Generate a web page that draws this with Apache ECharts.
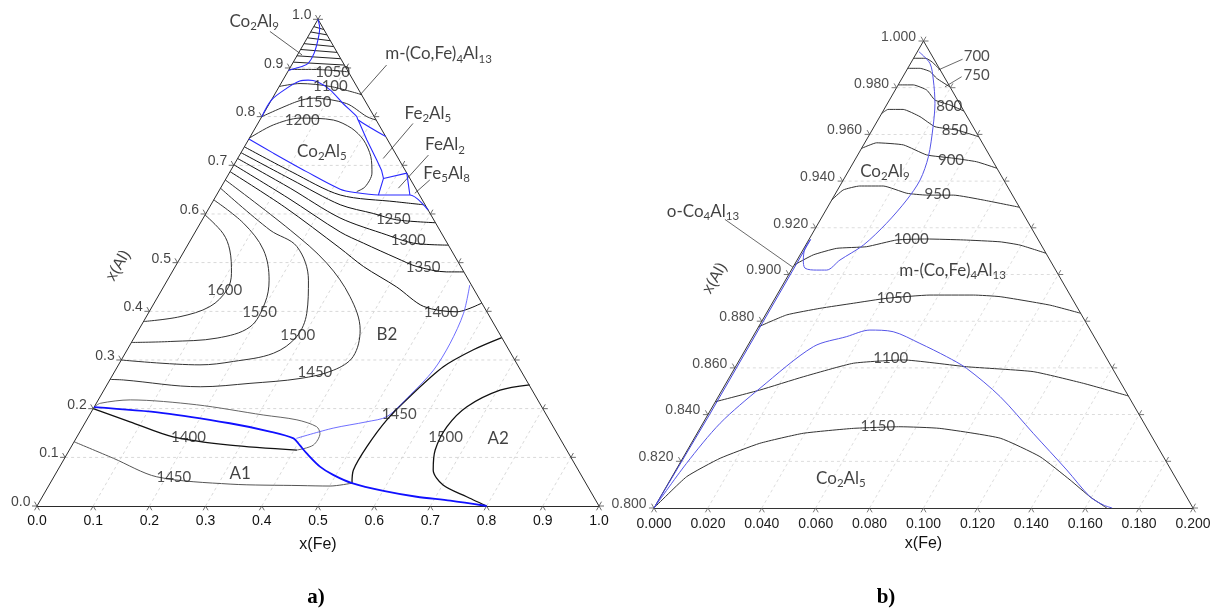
<!DOCTYPE html>
<html>
<head>
<meta charset="utf-8">
<script src="https://cdn.jsdelivr.net/npm/echarts@6/dist/echarts.min.js"></script>
<style>
html,body{margin:0;padding:0;background:#fff;}
#c{width:1217px;height:613px;}
</style>
</head>
<body>
<div id="c"></div>
<script>
// ---------- tick values ----------
const fullTicks = [0.0,0.1,0.2,0.3,0.4,0.5,0.6,0.7,0.8,0.9,1.0];
const cornerFeTicks = [0.000,0.020,0.040,0.060,0.080,0.100,0.120,0.140,0.160,0.180,0.200];
const cornerAlTicks = [0.800,0.820,0.840,0.860,0.880,0.900,0.920,0.940,0.960,0.980,1.000];

// ---------- a) full composition triangle, points are [x(Fe), x(Al)] ----------
// isotherms (°C)
const iso1450A1 = [[0,0.132],[0.087,0.098],[0.183,0.060],[0.321,0.045],[0.447,0.042],[0.501,0.041],[0.537,0.047]];
const iso1450A2 = [[0.537,0.047],[0.526,0.074],[0.526,0.122],[0.534,0.177],[0.551,0.225],[0.580,0.286],[0.616,0.321],[0.654,0.346]];
const iso1500A2 = [[0.752,0.249],[0.705,0.238],[0.663,0.204],[0.648,0.163],[0.651,0.115],[0.668,0.074],[0.701,0.043],[0.755,0.019],[0.800,0]];
const iso1400A1low = [[0,0.200],[0.079,0.173],[0.171,0.142],[0.281,0.125],[0.405,0.115]];
const iso1400A1up = [[0.405,0.115],[0.429,0.125],[0.429,0.149],[0.416,0.163],[0.374,0.177],[0.309,0.187],[0.180,0.208],[0.057,0.218],[0.007,0.211],[0,0.203]];
const iso1600 = [[0,0.598],[0.051,0.560],[0.080,0.526],[0.107,0.478],[0.116,0.444],[0.103,0.410],[0.060,0.389],[0,0.379]];
const iso1550 = [[0,0.629],[0.077,0.581],[0.140,0.526],[0.181,0.464],[0.197,0.417],[0.195,0.368],[0.148,0.345],[0.068,0.338],[0,0.336]];
const iso1500B2 = [[0,0.653],[0.131,0.567],[0.196,0.533],[0.251,0.464],[0.282,0.396],[0.288,0.348],[0.264,0.314],[0.201,0.297],[0.145,0.290],[0,0.300]];
const iso1450B2 = [[0,0.670],[0.167,0.567],[0.266,0.499],[0.342,0.430],[0.394,0.362],[0.409,0.307],[0.388,0.279],[0.337,0.262],[0.253,0.252],[0.168,0.245],[0.024,0.259],[0,0.260]];
const iso1400B2 = [[0,0.687],[0.134,0.614],[0.274,0.530],[0.335,0.492],[0.415,0.450],[0.483,0.410],[0.547,0.399],[0.583,0.417]];
const iso1350 = [[0,0.701],[0.130,0.633],[0.258,0.563],[0.311,0.540],[0.386,0.509],[0.430,0.492],[0.488,0.481],[0.519,0.481]];
const iso1300 = [[0,0.714],[0.124,0.653],[0.243,0.592],[0.344,0.557],[0.400,0.540],[0.464,0.536]];
const iso1250 = [[0,0.726],[0.119,0.670],[0.230,0.619],[0.298,0.601],[0.346,0.588],[0.418,0.582]];
const iso1200low = [[0,0.738],[0.111,0.686],[0.220,0.639],[0.327,0.625],[0.378,0.619]];
const iso1200 = [[0,0.756],[0.029,0.783],[0.070,0.797],[0.131,0.793],[0.172,0.776],[0.205,0.752],[0.235,0.718],[0.254,0.684],[0.256,0.656],[0.246,0.646]];
const iso1150 = [[0,0.800],[0.047,0.831],[0.073,0.838],[0.137,0.827],[0.187,0.800],[0.207,0.793]];
const iso1100 = [[0,0.862],[0.034,0.868],[0.091,0.862],[0.156,0.845]];
const iso1050 = [[0,0.897],[0.040,0.897],[0.079,0.895],[0.108,0.892]];
const isoApex = [
  [[0,0.985],[0.021,0.979]],
  [[0,0.974],[0.032,0.968]],
  [[0,0.962],[0.044,0.956]],
  [[0,0.950],[0.056,0.944]],
  [[0,0.938],[0.068,0.932]],
  [[0,0.925],[0.081,0.919]],
  [[0,0.912],[0.094,0.906]]
];
// phase boundaries
const bndA1 = [[0,0.203],[0.129,0.191],[0.258,0.170],[0.338,0.153],[0.387,0.139],[0.405,0.125],[0.426,0.108],[0.463,0.081],[0.495,0.064],[0.537,0.047],[0.601,0.031],[0.666,0.019],[0.730,0.011],[0.800,0]];
const bndA1B2 = [[0.392,0.139],[0.447,0.160],[0.500,0.173],[0.531,0.184],[0.550,0.228],[0.566,0.279],[0.568,0.334],[0.561,0.396],[0.543,0.454]];
const bndCo2Al9 = [[0,0.895],[0.009,0.899],[0.020,0.903],[0.028,0.910],[0.028,0.930],[0.021,0.958],[0.012,0.982],[0,1]];
const bndM = [[0,0.800],[0,0.834],[0.015,0.858],[0.031,0.873],[0.045,0.875],[0.062,0.872],[0.094,0.855],[0.131,0.827],[0.169,0.800],[0.175,0.793],[0.241,0.759]];
const bndFe2Al5 = [[0.175,0.793],[0.211,0.752],[0.249,0.711],[0.268,0.690],[0.280,0.673]];
const bndCo2Al5 = [[0,0.754],[0.058,0.725],[0.136,0.687],[0.214,0.651],[0.244,0.644],[0.288,0.639],[0.344,0.639],[0.392,0.608]];
const bndFeAl2 = [[0.288,0.639],[0.280,0.673],[0.316,0.684],[0.344,0.639]];
const leadersLeft = [
  [[-0.073,0.975],[0.008,0.927]],
  [[0.169,0.906],[0.1525,0.8445]],
  [[0.276,0.786],[0.259,0.714]],
  [[0.336,0.721],[0.3165,0.653]],
  [[0.364,0.670],[0.351,0.6425]]
];
const leftIsoLabels = [
  {t:'1050',p:[0.080,0.892]},{t:'1100',p:[0.091,0.862]},{t:'1150',p:[0.078,0.830]},{t:'1200',p:[0.076,0.792]},
  {t:'1250',p:[0.339,0.590]},{t:'1300',p:[0.387,0.547]},{t:'1350',p:[0.442,0.490]},{t:'1400',p:[0.520,0.398]},
  {t:'1600',p:[0.112,0.444]},{t:'1550',p:[0.197,0.398]},{t:'1500',p:[0.289,0.350]},{t:'1450',p:[0.357,0.275]},
  {t:'1400',p:[0.199,0.141]},{t:'1450',p:[0.214,0.059]},{t:'1450',p:[0.550,0.189]},{t:'1500',p:[0.656,0.142]}
];
const leftPhaseLabels = [
  {t:'{n|Co}{s|2}{n|Al}{s|9}',p:[-0.111,0.995]},
  {t:'{n|m-(Co,Fe)}{s|4}{n|Al}{s|13}',p:[0.250,0.929]},
  {t:'{n|Fe}{s|2}{n|Al}{s|5}',p:[0.292,0.807]},
  {t:'{n|FeAl}{s|2}',p:[0.355,0.742]},
  {t:'{n|Fe}{s|5}{n|Al}{s|8}',p:[0.387,0.684]},
  {t:'{n|Co}{s|2}{n|Al}{s|5}',p:[0.143,0.728]},
  {t:'{n|B2}',p:[0.446,0.353]},
  {t:'{n|A2}',p:[0.751,0.139]},
  {t:'{n|A1}',p:[0.328,0.067]}
];
const alTitleLeft = [-0.102,0.494];

// ---------- b) Al-rich corner ----------
const r700 = [[0,0.9926],[0.0046,0.9926],[0.0077,0.991],[0.0124,0.9876]];
const r750 = [[0,0.9883],[0.0045,0.9883],[0.009,0.9869],[0.0129,0.984],[0.0197,0.9803]];
const r800 = [[0,0.9812],[0.0056,0.9812],[0.0117,0.979],[0.0169,0.9747],[0.0235,0.9726],[0.030,0.970]];
const r850 = [[0,0.969],[0.0015,0.9707],[0.0071,0.9707],[0.0149,0.9676],[0.0226,0.9633],[0.0313,0.9619],[0.041,0.959]];
const r900 = [[0,0.954],[0.0044,0.9564],[0.0148,0.9555],[0.0256,0.9512],[0.0362,0.9498],[0.0455,0.9483],[0.0545,0.9455]];
const r950 = [[0,0.9319],[0.0021,0.9362],[0.0074,0.9379],[0.0161,0.9379],[0.0264,0.9348],[0.0342,0.934],[0.0441,0.934],[0.0562,0.9319],[0.0712,0.9288]];
const r1000 = [[0,0.9041],[0.0049,0.9084],[0.0122,0.9112],[0.0229,0.9119],[0.0327,0.9148],[0.0436,0.9152],[0.0574,0.9148],[0.0714,0.914],[0.0795,0.9126],[0.0909,0.9091]];
const r1050 = [[0,0.8776],[0.0079,0.8827],[0.0188,0.8855],[0.0302,0.8877],[0.0414,0.8898],[0.0568,0.8912],[0.0729,0.8912],[0.0832,0.8905],[0.1034,0.8869],[0.1166,0.8834]];
const r1100 = [[0,0.8455],[0.014,0.8505],[0.0273,0.8562],[0.043,0.862],[0.0608,0.8634],[0.0857,0.8605],[0.1115,0.8584],[0.1326,0.8534],[0.152,0.848]];
const r1150 = [[0,0.8],[0.0054,0.8134],[0.0139,0.8213],[0.0254,0.8277],[0.0394,0.832],[0.0569,0.8341],[0.0739,0.8348],[0.089,0.8341],[0.1135,0.8299],[0.1322,0.822],[0.1484,0.812],[0.1594,0.8048],[0.168,0.8]];
const rBndCo2Al9 = [[0.0006,0.9954],[0.0072,0.9904],[0.012,0.9833],[0.0176,0.9733],[0.0219,0.9633],[0.0266,0.9504],[0.0285,0.9405],[0.0278,0.9319],[0.0253,0.9219],[0.0214,0.9126],[0.0159,0.9062],[0.0131,0.9019],[0.0094,0.9019],[0.0047,0.9027],[0.0023,0.9062],[0.0004,0.9112],[0.0006,0.915]];
const rBndEdge = [[0.0006,0.915],[0.0006,0.84],[0,0.8]];
const rBndCo2Al5 = [[0,0.8],[0.0025,0.8191],[0.0064,0.8363],[0.0137,0.8513],[0.0246,0.8691],[0.0348,0.8734],[0.042,0.8762],[0.051,0.8755],[0.0634,0.8705],[0.0762,0.8648],[0.0861,0.8598],[0.1046,0.8477],[0.1247,0.832],[0.145,0.8163],[0.1594,0.8048],[0.1661,0.8013],[0.170,0.8]];
const leadersRight = [
  [[0.0184,0.9922],[0.0117,0.9876]],
  [[0.0218,0.9847],[0.0178,0.9804]],
  [[-0.0355,0.9236],[0,0.9031]]
];
const rightIsoLabels = [
  {t:'700',p:[0.0231,0.9933]},{t:'750',p:[0.027,0.9854]},{t:'800',p:[0.0236,0.9719]},{t:'850',p:[0.0307,0.9619]},
  {t:'900',p:[0.0357,0.949]},{t:'950',p:[0.038,0.9345]},{t:'1000',p:[0.0379,0.9151]},{t:'1050',p:[0.0442,0.8898]},
  {t:'1100',p:[0.0558,0.8641]},{t:'1150',p:[0.0655,0.8351]}
];
const rightPhaseLabels = [
  {t:'{n|Co}{s|2}{n|Al}{s|9}',p:[0.0137,0.944]},
  {t:'{n|m-(Co,Fe)}{s|4}{n|Al}{s|13}',p:[0.060,0.9016]},
  {t:'{n|o-Co}{s|4}{n|Al}{s|13}',p:[-0.0453,0.9269]},
  {t:'{n|Co}{s|2}{n|Al}{s|5}',p:[0.063,0.8127]}
];
const alTitleRight = [-0.0266,0.8984];

// ---------- drawing ----------
const chart = echarts.init(document.getElementById('c'), null, {renderer: 'canvas', width: 1217, height: 613});

// ternary [x(Fe), x(Al)] -> cartesian position inside each grid
const toCart = [
  p => [p[0] + p[1] / 2, p[1]],
  p => [p[0] + (p[1] - 0.8) / 2, p[1]]
];
// size of one pixel in axis units, per grid
const PX = [{sx: 1 / 562, sy: 1 / 486.7}, {sx: 0.2 / 539, sy: 0.2 / 467}];

const RICH = {
  n: {fontFamily: 'Lato', fontSize: 17, lineHeight: 22, color: '#111'},
  s: {fontFamily: 'Lato', fontSize: 11.5, lineHeight: 11, verticalAlign: 'bottom', color: '#111'}
};

function curve(gi, pts, color, width, smooth, z) {
  return {
    type: 'line', xAxisIndex: gi, yAxisIndex: gi, data: pts.map(toCart[gi]),
    symbol: 'none', showSymbol: false, smooth: smooth, silent: true, animation: false,
    lineStyle: {color: color, width: width}, z: z || 3
  };
}
function segs(gi, list, color, width, dashed, z, raw) {
  return {
    type: 'lines', coordinateSystem: 'cartesian2d', xAxisIndex: gi, yAxisIndex: gi,
    polyline: true, clip: false, silent: true, animation: false,
    data: list.map(s => ({coords: raw ? s : s.map(toCart[gi])})),
    lineStyle: {color: color, width: width, type: dashed ? [3, 3] : 'solid', opacity: 1, curveness: 0},
    z: z || 2
  };
}
function texts(gi, items, label, z) {
  return {
    type: 'scatter', xAxisIndex: gi, yAxisIndex: gi, symbolSize: 1, silent: true, animation: false,
    itemStyle: {color: 'rgba(0,0,0,0)'}, clip: false,
    data: items.map(it => ({name: it.t, value: toCart[gi](it.p)})),
    label: Object.assign({show: true, position: 'inside', formatter: q => q.name,
      color: '#111', fontFamily: 'Lato', fontSize: 14, rich: RICH}, label),
    z: z || 10
  };
}
function tickSegs(gi, pts, dirs) {
  const s = PX[gi], out = [];
  pts.forEach(c => dirs.forEach(d => out.push([c, [c[0] + d[0] * s.sx, c[1] - d[1] * s.sy]])));
  return out;
}

const series = [];

// --- a) grid lines, frame and ticks ---
const gLeft = [];
fullTicks.slice(1, -1).forEach(v => {
  gLeft.push([[0, v], [1 - v, v]]);
  gLeft.push([[v, 0], [v, 1 - v]]);
});
series.push(segs(0, gLeft, '#cfcfcf', 0.8, true, 1));
series.push(segs(0, [[[0, 0], [0, 1]], [[1, 0], [0, 1]]], '#2a2a2a', 1, false, 4));
const tL = [].concat(
  tickSegs(0, fullTicks.map(v => toCart[0]([v, 0])), [[-2.5, 4.3], [2.5, 4.3]]),
  tickSegs(0, fullTicks.map(v => toCart[0]([0, v])), [[-5, 0], [-2.5, -4.3]]),
  tickSegs(0, fullTicks.map(v => toCart[0]([1 - v, v])), [[5, 0], [2.5, -4.3]])
);
series.push(segs(0, tL, '#444', 0.8, false, 4, true));

// --- a) isotherms ---
series.push(curve(0, iso1450A1, '#555', 1, 0.3));
series.push(curve(0, iso1450A2, '#111', 1.3, 0.3));
series.push(curve(0, iso1500A2, '#111', 1.3, 0.3));
series.push(curve(0, iso1400A1low, '#111', 1.3, 0.3));
series.push(curve(0, iso1400A1up, '#666', 1, 0.3));
[iso1600, iso1550, iso1500B2, iso1450B2].forEach(c => series.push(curve(0, c, '#333', 1, 0.35)));
[iso1400B2, iso1350, iso1300, iso1250, iso1200low].forEach(c => series.push(curve(0, c, '#111', 1, 0.3)));
[iso1200, iso1150, iso1100, iso1050].forEach(c => series.push(curve(0, c, '#333', 1, 0.3)));
series.push(segs(0, isoApex, '#222', 1, false, 3));
series.push(segs(0, leadersLeft, '#333', 0.8, false, 3));

// --- a) phase boundaries ---
series.push(curve(0, bndA1, '#1010ff', 1.8, 0.3, 5));
series.push(curve(0, bndA1B2, '#4a4aff', 0.8, 0.3, 5));
[bndCo2Al9, bndM, bndCo2Al5].forEach(c => series.push(curve(0, c, '#2a2aff', 1.1, 0.3, 5)));
[bndFe2Al5, bndFeAl2].forEach(c => series.push(curve(0, c, '#2a2aff', 1.1, 0, 5)));

// --- a) texts ---
series.push(texts(0, leftIsoLabels, {fontSize: 15, color: '#222'}));
series.push(texts(0, leftPhaseLabels, {}));
series.push(texts(0, fullTicks.map(v => ({t: v.toFixed(1), p: [0, v]})),
  {position: 'left', distance: 6, offset: [0, -4], fontFamily: 'Liberation Sans', fontSize: 14}));
series.push(texts(0, [{t: 'x(Al)', p: alTitleLeft}], {rotate: 60, fontFamily: 'Liberation Sans', fontSize: 16}));

// --- b) grid lines, frame and ticks ---
const gRight = [];
cornerFeTicks.slice(1, -1).forEach(v => gRight.push([[v, 0.8], [v, 1 - v]]));
cornerAlTicks.slice(1, -1).forEach(v => gRight.push([[0, v], [1 - v, v]]));
series.push(segs(1, gRight, '#d4d4d4', 0.8, true, 1));
series.push(segs(1, [[[0, 0.8], [0, 1]], [[0.2, 0.8], [0, 1]]], '#333', 1, false, 4));
const tR = [].concat(
  tickSegs(1, cornerFeTicks.map(v => toCart[1]([v, 0.8])), [[-2.5, 4.3], [2.5, 4.3]]),
  tickSegs(1, cornerAlTicks.map(v => toCart[1]([0, v])), [[-5, 0], [-2.5, -4.3]]),
  tickSegs(1, cornerAlTicks.map(v => toCart[1]([1 - v, v])), [[5, 0], [2.5, -4.3]])
);
series.push(segs(1, tR, '#555', 0.8, false, 4, true));

// --- b) isotherms and boundaries ---
[r700, r750, r800, r850, r900, r950, r1000, r1050, r1100, r1150].forEach(c => series.push(curve(1, c, '#333', 1, 0.15)));
series.push(segs(1, leadersRight, '#444', 0.8, false, 3));
series.push(curve(1, rBndCo2Al9, '#5555e8', 1, 0.3, 5));
series.push(curve(1, rBndEdge, '#4444dd', 1, 0, 5));
series.push(curve(1, rBndCo2Al5, '#5555e8', 1, 0.3, 5));

// --- b) texts ---
series.push(texts(1, rightIsoLabels, {fontSize: 15, color: '#222'}));
series.push(texts(1, rightPhaseLabels, {}));
series.push(texts(1, cornerAlTicks.map(v => ({t: v.toFixed(3), p: [0, v]})),
  {position: 'left', distance: 7, offset: [0, -4], fontFamily: 'Liberation Sans', fontSize: 14, color: '#222'}));
series.push(texts(1, [{t: 'x(Al)', p: alTitleRight}], {rotate: 60, fontFamily: 'Liberation Sans', fontSize: 16}));

const axisName = {fontFamily: 'Liberation Sans', fontSize: 16, color: '#111'};
chart.setOption({
  animation: false,
  backgroundColor: '#fff',
  grid: [
    {left: 37, top: 19.3, width: 562, height: 486.7, containLabel: false, outerBoundsMode: 'none'},
    {left: 654, top: 41, width: 539, height: 467, containLabel: false, outerBoundsMode: 'none'}
  ],
  xAxis: [
    {gridIndex: 0, type: 'value', min: 0, max: 1, interval: 0.1,
     axisLine: {show: true, lineStyle: {color: '#2a2a2a', width: 1}}, axisTick: {show: false}, splitLine: {show: false},
     axisLabel: {formatter: v => v.toFixed(1), fontFamily: 'Liberation Sans', fontSize: 14, color: '#111', margin: 8, showMinLabel: true, showMaxLabel: true},
     name: 'x(Fe)', nameLocation: 'middle', nameGap: 31, nameTextStyle: axisName},
    {gridIndex: 1, type: 'value', min: 0, max: 0.2, interval: 0.02,
     axisLine: {show: true, lineStyle: {color: '#333', width: 1}}, axisTick: {show: false}, splitLine: {show: false},
     axisLabel: {formatter: v => v.toFixed(3), fontFamily: 'Liberation Sans', fontSize: 14, color: '#222', margin: 9, showMinLabel: true, showMaxLabel: true},
     name: 'x(Fe)', nameLocation: 'middle', nameGap: 22, nameTextStyle: axisName}
  ],
  yAxis: [
    {gridIndex: 0, type: 'value', min: 0, max: 1, show: false},
    {gridIndex: 1, type: 'value', min: 0.8, max: 1.0, show: false}
  ],
  graphic: [
    {type: 'text', x: 316, y: 598, style: {text: 'a)', font: 'bold 21px "Liberation Serif"', fill: '#000', align: 'center', verticalAlign: 'middle'}},
    {type: 'text', x: 886, y: 598, style: {text: 'b)', font: 'bold 21px "Liberation Serif"', fill: '#000', align: 'center', verticalAlign: 'middle'}}
  ],
  series: series
});
</script>
</body>
</html>
